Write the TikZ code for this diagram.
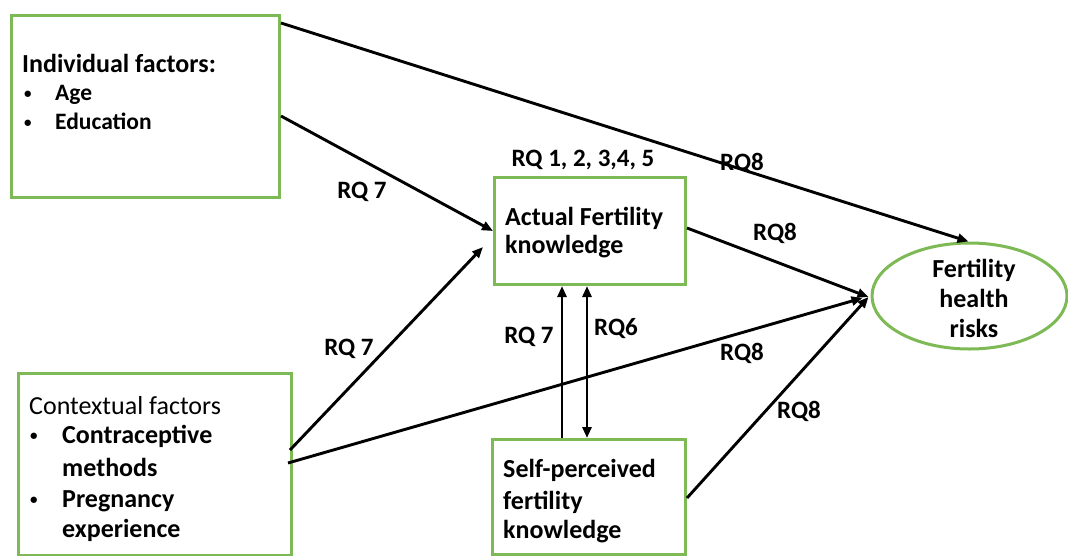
\documentclass[tikz,border=0pt]{standalone}
\usepackage{fontspec}
\setmainfont{Carlito}
\usetikzlibrary{shapes.geometric,arrows.meta,calc}
\definecolor{boxgreen}{RGB}{125,185,85}
\tikzset{
  box/.style={draw=boxgreen, line width=3pt, inner sep=0pt, anchor=north west},
  arr/.style={-{Triangle[length=11pt,width=9pt]}, line width=2.9pt},
  darr/.style={{Triangle[length=11pt,width=9pt]}-{Triangle[length=11pt,width=9pt]}, line width=2.9pt},
  txt/.style={anchor=base west, inner sep=0pt, font=\bfseries\fontsize{26}{31}\selectfont},
  stxt/.style={anchor=base west, inner sep=0pt, font=\bfseries\fontsize{23.5}{28}\selectfont},
  bul/.style={anchor=base west, inner sep=0pt, font=\bfseries\fontsize{15}{15}\selectfont},
  ctxt/.style={anchor=base, inner sep=0pt, font=\bfseries\fontsize{26}{31}\selectfont},
  lbl/.style={anchor=base, inner sep=0pt, font=\bfseries\fontsize{25}{30}\selectfont}
}
\begin{document}
\begin{tikzpicture}[x=1pt,y=-1pt]
\clip (0,0) rectangle (1068,555);
\fill[white] (0,0) rectangle (1068,555);
% boxes
\node[box, minimum width=268pt, minimum height=182pt] (ind) at (10,14) {};
\node[box, minimum width=191pt, minimum height=107pt] (act) at (493,176) {};
\node[box, minimum width=273pt, minimum height=182pt] (ctx) at (17,372) {};
\node[box, minimum width=193pt, minimum height=115pt] (self) at (491,438) {};
\node[draw=boxgreen, line width=3pt, ellipse, inner sep=0pt, minimum width=195pt, minimum height=106pt] (risk) at (969.5,296) {};
% box texts
\node[txt] (t1) at (22,72) {Individual factors:};
\node[bul] (t2) at (24,98) {•};
\node[stxt] (t3) at (55,100) {Age};
\node[bul] (t4) at (24,127) {•};
\node[stxt] (t5) at (55,129) {Education};
\node[txt, font=\mdseries\fontsize{26}{31}\selectfont] (c1) at (29,414) {Contextual factors};
\node[bul] (c2) at (30,440) {•};
\node[txt] (c3) at (62,443) {Contraceptive};
\node[txt] (c4) at (62,476) {methods};
\node[bul] (c5) at (30,504) {•};
\node[txt] (c6) at (62,507) {Pregnancy};
\node[txt] (c7) at (62,537) {experience};
\node[txt] (a1) at (505,225) {Actual Fertility};
\node[txt] (a2) at (505,253) {knowledge};
\node[txt] (s1) at (503,477) {Self-perceived};
\node[txt] (s2) at (503,509) {fertility};
\node[txt] (s3) at (503,538) {knowledge};
\node[ctxt] (r1) at (974,277) {Fertility};
\node[ctxt] (r2) at (974,307) {health};
\node[ctxt] (r3) at (974,337) {risks};
% connectors
\draw[arr] ([yshift=-9pt]ind.north east) -- ([xshift=-1pt]risk.north);
\draw[arr] ([yshift=-102pt]ind.north east) -- (act.west);
\draw[arr] ([yshift=-78pt,xshift=-3pt]ctx.north east) -- ([xshift=-10pt,yshift=-16pt]act.west);
\draw[arr] ([yshift=-91pt,xshift=-5pt]ctx.north east) -- ([xshift=-8pt,yshift=-2pt]risk.west);
\draw[arr] ([yshift=-52pt]act.north west -| act.east) -- ([xshift=-2pt,yshift=-1pt]risk.west);
\draw[arr] ([yshift=-60pt]self.north east) -- ([xshift=-2pt,yshift=-1pt]risk.west);
\draw[arr] ($(self.north west)+(71,0)$) -- ($(act.south west)+(69,0)$);
\draw[darr] ($(self.north west)+(96,0)$) -- ($(act.south west)+(94,0)$);
% labels
\node[lbl] (l1) at (583,166) {RQ 1, 2, 3,4, 5};
\node[lbl] (l2) at (742,170) {RQ8};
\node[lbl] (l3) at (362,198) {RQ 7};
\node[lbl] (l4) at (775,240) {RQ8};
\node[lbl] (l5) at (349,355) {RQ 7};
\node[lbl] (l6) at (529,343) {RQ 7};
\node[lbl] (l7) at (616,335) {RQ6};
\node[lbl] (l8) at (742,360) {RQ8};
\node[lbl] (l9) at (799,418) {RQ8};
\end{tikzpicture}
\end{document}
